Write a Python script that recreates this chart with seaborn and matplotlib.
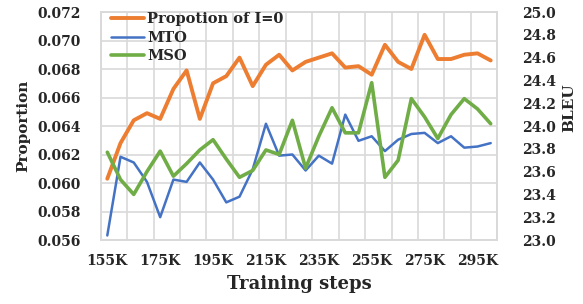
import matplotlib
matplotlib.use('Agg')
import matplotlib.pyplot as plt
import seaborn as sns
import pandas as pd

# training steps (in K)
steps = [155, 160, 165, 170, 175, 180, 185, 190, 195, 200,
         205, 210, 215, 220, 225, 230, 235, 240, 245, 250,
         255, 260, 265, 270, 275, 280, 285, 290, 295, 300]

# proportion of I=0 (left axis)
prop_i0 = [0.0603, 0.0628, 0.0644, 0.0649, 0.0645, 0.0666, 0.0679, 0.0645, 0.0670, 0.0675,
           0.0688, 0.0668, 0.0683, 0.0690, 0.0679, 0.0685, 0.0688, 0.0691, 0.0681, 0.0682,
           0.0676, 0.0697, 0.0685, 0.0680, 0.0704, 0.0687, 0.0687, 0.0690, 0.0691, 0.0686]

# BLEU (right axis)
mto = [23.04, 23.73, 23.68, 23.51, 23.20, 23.53, 23.51, 23.68, 23.53, 23.33,
       23.38, 23.62, 24.02, 23.74, 23.75, 23.61, 23.74, 23.67, 24.10, 23.87,
       23.91, 23.78, 23.88, 23.93, 23.94, 23.85, 23.91, 23.81, 23.82, 23.85]
mso = [23.77, 23.53, 23.40, 23.60, 23.78, 23.56, 23.67, 23.79, 23.88, 23.71,
       23.55, 23.61, 23.79, 23.75, 24.05, 23.63, 23.91, 24.16, 23.94, 23.94,
       24.38, 23.55, 23.70, 24.24, 24.08, 23.89, 24.10, 24.24, 24.15, 24.02]

tick_steps = [155, 175, 195, 215, 235, 255, 275, 295]

df = pd.DataFrame({'step': steps, 'prop': prop_i0, 'MTO': mto, 'MSO': mso})

sns.set_style('white')
plt.rcParams['font.family'] = ['DejaVu Serif']
plt.rcParams['font.weight'] = 'bold'

grid_col = '#D9D9D9'
fig = plt.figure(figsize=(5.83, 3.04), dpi=100)
ax = fig.add_axes([0.1727, 0.2105, 0.6803, 0.75])
ax2 = ax.twinx()

sns.lineplot(x='step', y='prop', data=df, color='#ED7D31', linewidth=2.8, ax=ax,
             label='Propotion of I=0', legend=False)
sns.lineplot(x='step', y='MTO', data=df, color='#4472C4', linewidth=1.8, ax=ax2,
             label='MTO', legend=False)
sns.lineplot(x='step', y='MSO', data=df, color='#70AD47', linewidth=2.6, ax=ax2,
             label='MSO', legend=False)

ax.set_xlim(152.5, 302.5)
ax.set_ylim(0.056, 0.072)
ax2.set_ylim(23.0, 25.0)
ax.set_yticks([0.056, 0.058, 0.060, 0.062, 0.064, 0.066, 0.068, 0.070, 0.072])
ax.set_yticklabels(['%.3f' % v for v in ax.get_yticks()])
ax2.set_yticks([23.0 + 0.2 * k for k in range(11)])
ax2.set_yticklabels(['%.1f' % v for v in ax2.get_yticks()])
ax.set_xticks(tick_steps)
ax.set_xticklabels(['%dK' % s for s in tick_steps])
ax.set_xticks([152.5 + 10 * k for k in range(16)], minor=True)

ax.grid(False)
ax.grid(True, which='minor', axis='x', color=grid_col, linewidth=1.2)
ax.grid(True, which='major', axis='y', color=grid_col, linewidth=1.2)
ax.set_axisbelow(True)

for a in (ax, ax2):
    for sp in a.spines.values():
        sp.set_color(grid_col)
        sp.set_linewidth(1.2)
    a.tick_params(length=0, which='both', labelsize=10)
ax.tick_params(axis='y', pad=14)
ax2.tick_params(axis='y', pad=18)
ax.tick_params(axis='x', pad=10)

ax.set_xlabel('Training steps', fontsize=13, fontweight='bold', labelpad=5)
ax.set_ylabel('Proportion', fontsize=11, fontweight='bold', labelpad=5)
ax2.set_ylabel('BLEU', fontsize=11, fontweight='bold', labelpad=8)
ax2.yaxis.set_label_coords(1.165, 0.58)

h1, l1 = ax.get_legend_handles_labels()
h2, l2 = ax2.get_legend_handles_labels()
leg = ax2.legend(h1 + h2, l1 + l2, loc='upper left', bbox_to_anchor=(0.0, 1.045),
                 frameon=False, fontsize=10.5, handlelength=2.3, handletextpad=0.2,
                 labelspacing=0.32, borderaxespad=0.3)

fig.savefig('out.png', dpi=100)
